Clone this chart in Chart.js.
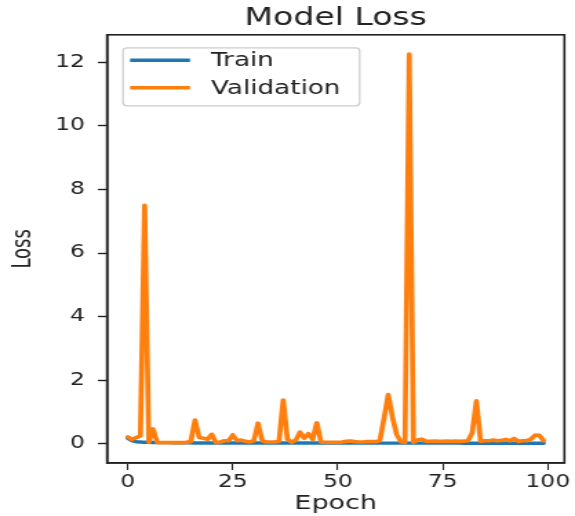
<!DOCTYPE html>
<html>
<head>
<meta charset="utf-8">
<script src="https://cdn.jsdelivr.net/npm/chart.js@4.4.1/dist/chart.umd.min.js"></script>
<style>
  html, body { margin: 0; padding: 0; background: #ffffff; overflow: hidden; }
  #wrap { width: 417px; height: 516px; transform: scaleX(1.3789); transform-origin: 0 0; }
  canvas { display: block; }
</style>
</head>
<body>
<div id="wrap"><canvas id="c" width="417" height="516"></canvas></div>
<script>
// ---- data ----
const epochs = Array.from({length: 100}, (_, i) => i);
const trainLoss = [
  0.18, 0.10, 0.07, 0.06, 0.05, 0.05, 0.045, 0.04, 0.04, 0.04,
  0.04, 0.035, 0.035, 0.035, 0.035, 0.035, 0.03, 0.03, 0.03, 0.03,
  0.03, 0.03, 0.03, 0.03, 0.03, 0.03, 0.03, 0.03, 0.03, 0.03,
  0.03, 0.03, 0.03, 0.03, 0.03, 0.03, 0.03, 0.03, 0.03, 0.03,
  0.03, 0.03, 0.03, 0.03, 0.03, 0.03, 0.03, 0.03, 0.03, 0.03,
  0.025, 0.025, 0.025, 0.025, 0.025, 0.025, 0.025, 0.025, 0.025, 0.025,
  0.025, 0.025, 0.025, 0.025, 0.025, 0.025, 0.025, 0.025, 0.025, 0.025,
  0.025, 0.025, 0.025, 0.025, 0.025, 0.025, 0.025, 0.025, 0.025, 0.025,
  0.02, 0.02, 0.02, 0.02, 0.02, 0.02, 0.02, 0.02, 0.02, 0.02,
  0.02, 0.02, 0.02, 0.02, 0.02, 0.02, 0.02, 0.02, 0.02, 0.02
];
const valLoss = [
  0.22, 0.14, 0.20, 0.25, 7.50, 0.05, 0.47, 0.05, 0.04, 0.04,
  0.04, 0.04, 0.04, 0.04, 0.05, 0.08, 0.75, 0.20, 0.18, 0.15,
  0.30, 0.04, 0.06, 0.10, 0.10, 0.28, 0.10, 0.12, 0.08, 0.06,
  0.10, 0.65, 0.10, 0.06, 0.06, 0.06, 0.08, 1.38, 0.15, 0.05,
  0.12, 0.37, 0.18, 0.32, 0.14, 0.66, 0.06, 0.05, 0.05, 0.05,
  0.05, 0.06, 0.08, 0.09, 0.07, 0.06, 0.06, 0.07, 0.07, 0.07,
  0.10, 0.80, 1.55, 0.85, 0.30, 0.07, 0.05, 12.25, 0.05, 0.12,
  0.15, 0.08, 0.08, 0.09, 0.08, 0.08, 0.09, 0.08, 0.09, 0.08,
  0.09, 0.10, 0.35, 1.35, 0.08, 0.10, 0.10, 0.12, 0.10, 0.11,
  0.14, 0.10, 0.17, 0.08, 0.10, 0.10, 0.15, 0.28, 0.27, 0.10
];
const seriesNames = ['Train', 'Validation'];
const seriesColors = ['#1f77b4', '#ff7f0e'];
const xTickValues = [0, 25, 50, 75, 100];
const yTickValues = [0, 2, 4, 6, 8, 10, 12];
const chartTitle = 'Model Loss';
const xAxisLabel = 'Epoch';
const yAxisLabel = 'Loss';

const FONT = '"DejaVu Sans", "Liberation Sans", sans-serif';
const NARROW = '"Liberation Sans Narrow", "DejaVu Sans Condensed", "DejaVu Sans", sans-serif';
const INK = '#222222';

const toPoints = (arr) => epochs.map((e, i) => ({x: e, y: arr[i]}));

// white background + frame on all four sides
const framePlugin = {
  id: 'frame',
  beforeDraw(chart) {
    const ctx = chart.ctx;
    ctx.save();
    ctx.fillStyle = '#ffffff';
    ctx.fillRect(0, 0, chart.width, chart.height);
    ctx.restore();
  },
  afterDatasetsDraw(chart) {
    const {ctx, chartArea: a} = chart;
    ctx.save();
    ctx.strokeStyle = INK;
    ctx.lineWidth = 1.6;
    ctx.strokeRect(a.left, a.top, a.right - a.left, a.bottom - a.top);
    ctx.restore();
  }
};

// matplotlib-style legend inside the axes, upper left
const innerLegend = {
  id: 'innerLegend',
  afterDraw(chart) {
    const {ctx, chartArea: a} = chart;
    const ds = chart.data.datasets;
    const fontSize = 19;
    const frameX = a.left + 11.6, frameY = a.top + 13;
    const lineX0 = a.left + 16.7, lineX1 = a.left + 60.2;
    const textX = a.left + 75.4;
    const rowY0 = a.top + 25.4, rowGap = 27.6;
    ctx.save();
    ctx.font = fontSize + 'px ' + FONT;
    let maxW = 0;
    ds.forEach(d => { maxW = Math.max(maxW, ctx.measureText(d.label).width); });
    const frameW = (textX + maxW + 14) - frameX;
    const frameH = 58;
    ctx.beginPath();
    ctx.roundRect(frameX, frameY, frameW, frameH, 3);
    ctx.fillStyle = 'rgba(255,255,255,0.8)';
    ctx.fill();
    ctx.strokeStyle = '#cccccc';
    ctx.lineWidth = 1.2;
    ctx.stroke();
    ds.forEach((d, i) => {
      const y = rowY0 + i * rowGap;
      ctx.beginPath();
      ctx.moveTo(lineX0, y);
      ctx.lineTo(lineX1, y);
      ctx.strokeStyle = d.borderColor;
      ctx.lineWidth = 3.4;
      ctx.stroke();
      ctx.fillStyle = INK;
      ctx.textAlign = 'left';
      ctx.textBaseline = 'middle';
      ctx.fillText(d.label, textX, y + 1);
    });
    ctx.restore();
  }
};

new Chart(document.getElementById('c'), {
  type: 'line',
  data: {
    datasets: [
      { label: seriesNames[0], data: toPoints(trainLoss), borderColor: seriesColors[0], backgroundColor: seriesColors[0],
        borderWidth: 3.4, pointRadius: 0, tension: 0, fill: false, order: 1,
        borderJoinStyle: 'round', borderCapStyle: 'round' },
      { label: seriesNames[1], data: toPoints(valLoss), borderColor: seriesColors[1], backgroundColor: seriesColors[1],
        borderWidth: 3.7, pointRadius: 0, tension: 0, fill: false, order: 0,
        borderJoinStyle: 'round', borderCapStyle: 'round' }
    ]
  },
  options: {
    responsive: false,
    animation: false,
    devicePixelRatio: 1,
    layout: { padding: { left: 0, right: 7.7, top: 0, bottom: 0 } },
    plugins: {
      legend: { display: false },
      tooltip: { enabled: false },
      title: {
        display: true,
        text: chartTitle,
        fullSize: false,
        color: INK,
        font: { family: FONT, size: 24, weight: 'normal', lineHeight: 1.2 },
        padding: { top: 4.6, bottom: 1.4 }
      }
    },
    scales: {
      x: {
        type: 'linear',
        position: 'bottom',
        min: -4.95,
        max: 103.95,
        afterBuildTicks: (s) => { s.ticks = xTickValues.map(v => ({value: v})); },
        afterFit: (s) => { s.height = 53; },
        ticks: {
          color: INK,
          font: { family: FONT, size: 17, lineHeight: 1.2 },
          padding: 2,
          maxRotation: 0,
          autoSkip: false,
          callback: (v) => String(v)
        },
        grid: { display: true, drawOnChartArea: false, drawTicks: true, tickLength: 7, tickColor: INK, tickWidth: 1.1 },
        border: { display: true, color: INK, width: 1.6 },
        title: {
          display: true,
          text: xAxisLabel,
          color: INK,
          font: { family: FONT, size: 19.5, lineHeight: 1.2 },
          padding: { top: 0, bottom: 0 }
        }
      },
      y: {
        type: 'linear',
        position: 'left',
        min: -0.6,
        max: 12.86,
        afterBuildTicks: (s) => { s.ticks = yTickValues.map(v => ({value: v})); },
        afterFit: (s) => { s.width = 77.6; },
        ticks: {
          color: INK,
          font: { family: FONT, size: 17, lineHeight: 1.2 },
          padding: 9.4,
          autoSkip: false,
          callback: (v) => String(v)
        },
        grid: { display: true, drawOnChartArea: false, drawTicks: true, tickLength: 6.6, tickColor: INK, tickWidth: 1.4 },
        border: { display: true, color: INK, width: 1.6 },
        title: {
          display: true,
          text: yAxisLabel,
          color: INK,
          font: { family: NARROW, size: 20, lineHeight: 1.2 },
          padding: { top: 5, bottom: 0 }
        }
      }
    }
  },
  plugins: [framePlugin, innerLegend]
});
</script>
</body>
</html>
